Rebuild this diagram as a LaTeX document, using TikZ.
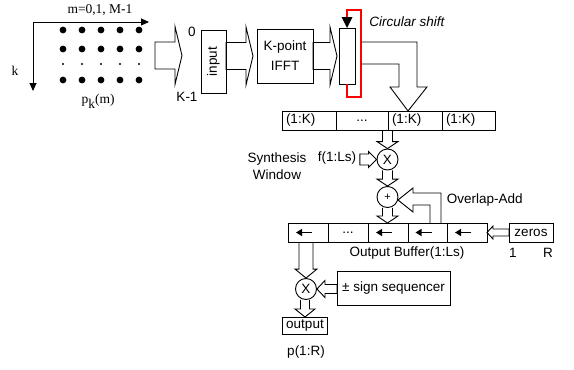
\documentclass[tikz,border=0pt]{standalone}
\usepackage{fontspec}
\setmainfont{Liberation Sans}
\newfontfamily\timesfont{Liberation Serif}
\usepackage{tikz}
\usetikzlibrary{arrows.meta, positioning, calc}
\tikzset{font=\fontsize{13.5}{16}\selectfont}
\tikzset{box/.style={draw, inner sep=0pt, outer sep=0pt}}
\tikzset{cell/.style={draw, minimum height=19pt, inner sep=0pt, outer sep=0pt}}
\tikzset{lcell/.style={cell, inner xsep=4pt, text width=#1}}
\tikzset{op/.style={circle, draw, minimum size=21pt, inner sep=0pt}}
\tikzset{cellarrow/.style={-{Triangle[length=6pt,width=7pt]}, line width=1.3pt}}
\tikzset{shiftline/.style={color=red, line width=1.05pt}}
\tikzset{abody/.store in=\abody, ahead/.store in=\ahead, alen/.store in=\alen,
  abody=5pt, ahead=10.5pt, alen=7pt}
\tikzset{fatdown/.style={to path={let \p1=(\tikztostart), \p2=(\tikztotarget) in
  (\x2-\abody,\y1) -- (\x2-\abody,\y2+\alen) -- (\x2-\ahead,\y2+\alen) -- (\x2,\y2)
  -- (\x2+\ahead,\y2+\alen) -- (\x2+\abody,\y2+\alen) -- (\x2+\abody,\y1)}}}
\tikzset{fatright/.style={to path={let \p1=(\tikztostart), \p2=(\tikztotarget) in
  (\x1,\y2+\abody) -- (\x2-\alen,\y2+\abody) -- (\x2-\alen,\y2+\ahead) -- (\x2,\y2)
  -- (\x2-\alen,\y2-\ahead) -- (\x2-\alen,\y2-\abody) -- (\x1,\y2-\abody) -- cycle}}}
\tikzset{fatleft/.style={to path={let \p1=(\tikztostart), \p2=(\tikztotarget) in
  (\x1,\y2+\abody) -- (\x2+\alen,\y2+\abody) -- (\x2+\alen,\y2+\ahead) -- (\x2,\y2)
  -- (\x2+\alen,\y2-\ahead) -- (\x2+\alen,\y2-\abody) -- (\x1,\y2-\abody) -- cycle}}}

\begin{document}
\begin{tikzpicture}[x=1pt, y=-1pt, line width=0.9pt]
  \useasboundingbox (0,0) rectangle (574,370);
  % Sample grid
  \coordinate (ax) at (33,22);
  \coordinate (mend) at (149,22);
  \coordinate (kend) at (33,91);
  \draw[-{Triangle[length=8pt,width=7pt]}] (ax) -- (mend);
  \draw[-{Triangle[length=8pt,width=7pt]}] (ax) -- (kend);
  \node (mlab) at (100,10) {\timesfont m=0,1, M-1};
  \node (klab) at (15,71) {\timesfont k};
  \node (plab) at (98,101) {\timesfont p\raisebox{-0.8ex}{k}(m)};
  \foreach \x in {63,82,101,120,139} {
    \foreach \y in {30,49,80}
      \fill (\x,\y) circle (3.4pt);
    \fill (\x,64) circle (1.1pt);
  }
  % Top row
  \coordinate (pin) at (155,55.5);
  \coordinate (pout) at (182,55.5);
  \node (zero) at (192,32) {0};
  \node (kmin) at (187,97) {K-1};
  \node[box, minimum width=25pt, minimum height=63pt] (input) at (213.5,61.5) {\rotatebox{90}{input}};
  \node[box, minimum width=56pt, minimum height=54pt, align=center] (ifft) at (285,56) {K-point\\[4pt]IFFT};
  \node[box, minimum width=16pt, minimum height=56pt] (shift) at (347,56) {};
  \begin{scope}[abody=13.5pt, ahead=29pt, alen=7pt]
    \draw[fatright] (pin) to (pout);
    \draw[fatright] (input.east) to ([xshift=-4pt]ifft.west);
    \draw[fatright] (ifft.east) to ([xshift=-2pt]shift.west);
  \end{scope}
  \draw (362,42) -- (417,42) -- (417,87) -- (427,87) -- (408,111) -- (390,87) -- (399,87) -- (399,64) -- (362,64);
  \draw[shiftline] (shift.south) -- ++(0,13) -- ++(14,0) -- ++(0,-87) -- ++(-14,0) -- ++(0,8);
  \fill ([shift={(-5.5,-11)}]shift.north) -- ([shift={(5.5,-11)}]shift.north) -- (shift.north) -- cycle;
  \node (circ) at (407,22) {\itshape Circular shift};
  % Synthesis buffer
  \node[lcell=46pt, anchor=west] (c1) at (282,120.5) {(1:K)};
  \node[cell, minimum width=52pt, right=0pt of c1] (c2) {...};
  \node[lcell=46pt, right=0pt of c2] (c3) {(1:K)};
  \node[lcell=45pt, right=0pt of c3] (c4) {(1:K)};
  % Window and overlap-add
  \node[op] (x1) at (387.5,159.5) {X};
  \node[op] (plus) at (387.5,197) {\fontsize{11}{11}\selectfont +};
  \node (f) at (337,158) {f(1:Ls)};
  \node[align=center] (win) at (277,166.5) {Synthesis\\[1pt]Window};
  \draw[fatdown] (x1 |- c3.south) to (x1.north);
  \draw[fatright, abody=5.5pt, ahead=8pt, alen=8pt] (f.east) to (x1.west);
  \draw[fatdown] (x1.south) to (plus.north);
  % Output buffer
  \node[cell, minimum width=40pt, anchor=west] (d1) at (288,232.5) {};
  \node[cell, minimum width=40pt, right=0pt of d1] (d2) {...};
  \node[cell, minimum width=40pt, right=0pt of d2] (d3) {};
  \node[cell, minimum width=39pt, right=0pt of d3] (d4) {};
  \node[cell, minimum width=40pt, right=0pt of d4] (d5) {};
  \foreach \c in {d1,d3,d4,d5}
    \draw[cellarrow] ([xshift=4pt]\c.center) -- ([xshift=-12pt]\c.center);
  \draw[fatdown] (plus.south) to (plus |- d3.north);
  \draw (441,223) -- (441,193) -- (413,193) -- (413,188) -- (398,200) -- (413,212) -- (413,205) -- (430,205) -- (430,223);
  \node[anchor=west] (ola) at (443,200) {Overlap-Add};
  \node[box, minimum width=44pt, minimum height=19pt] (zeros) at (531,232.5) {zeros};
  \draw[fatleft, abody=3.5pt, ahead=6.5pt, alen=6pt] (zeros.west) to (d5.east);
  \node (obuf) at (407,253) {Output Buffer(1:Ls)};
  \node (one) at (513,253) {1};
  \node (rr) at (548,253) {R};
  % Sign and output
  \node[op] (x2) at (306,289) {X};
  \node[box, minimum width=113pt, minimum height=34pt] (sign) at (393.5,288) {± sign sequencer};
  \node[box, minimum width=45pt, minimum height=17pt] (out) at (305,325.5) {output};
  \node (pr) at (306,352) {p(1:R)};
  \draw[fatdown, abody=7pt, ahead=11pt, alen=9pt] (x2 |- d1.south) to (x2.north);
  \draw[fatleft, abody=4.5pt, ahead=8.5pt, alen=8pt] (sign.west) to (x2.east);
  \draw[fatdown, abody=4.5pt, ahead=10pt, alen=8pt] (x2.south) to (out.north);
\end{tikzpicture}
\end{document}
